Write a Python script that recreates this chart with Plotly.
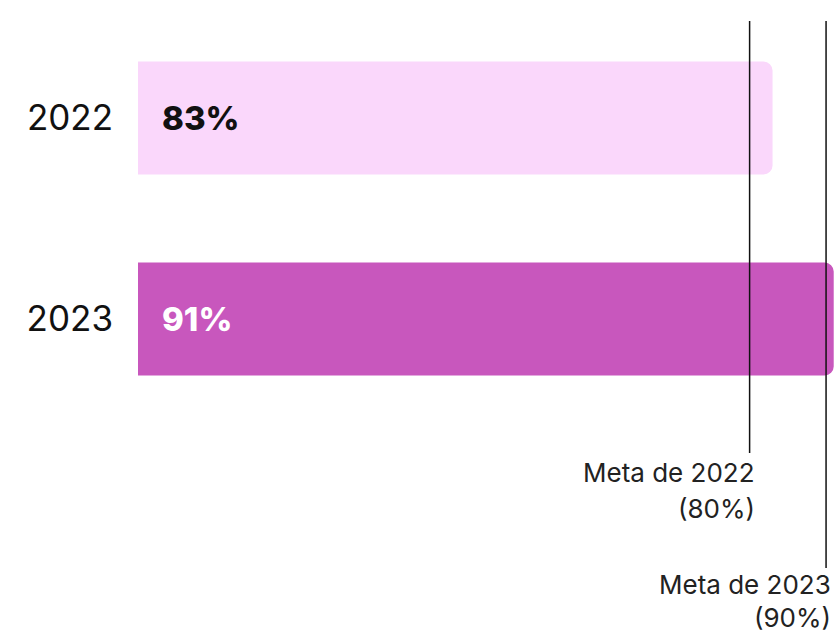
import plotly.graph_objects as go

years = ["2022", "2023"]
values = [83, 91]
goals = [80, 90]
goal_labels = ["Meta de 2022", "Meta de 2023"]
bar_colors = ["#FAD7FB", "#C857BD"]
text_colors = ["#111111", "#FFFFFF"]

W, H = 836, 635

def py(pix):
    return 1 - pix / H

fig = go.Figure()
fig.add_trace(go.Bar(
    y=years, x=values, orientation="h",
    marker=dict(color=bar_colors, cornerradius=9, line=dict(width=0)),
    width=0.562, hoverinfo="skip",
))

annotations = []
for i, (v, c) in enumerate(zip(values, text_colors)):
    annotations.append(dict(
        x=0, y=i, xref="x", yref="y", text=f"{v}%", showarrow=False,
        xanchor="left", yanchor="middle", xshift=22,
        font=dict(family="Inter", size=33, color=c, weight=800),
    ))

line_bottoms = [453, 568]
label_tops = [472, 584]
label_gaps = [36, 33]
shapes = []
for g, lab, lb, lt, gap in zip(goals, goal_labels, line_bottoms, label_tops, label_gaps):
    shapes.append(dict(type="line", xref="x", yref="paper", x0=g, x1=g,
                       y0=py(21), y1=py(lb), line=dict(color="#111111", width=1.5),
                       layer="above"))
    annotations.append(dict(
        x=g, y=py(lt), xref="x", yref="paper", text=lab, showarrow=False,
        xanchor="right", yanchor="middle", xshift=7, align="right",
        font=dict(family="Inter", size=26, color="#222222"),
    ))
    annotations.append(dict(
        x=g, y=py(lt + gap), xref="x", yref="paper", text=f"({g}%)", showarrow=False,
        xanchor="right", yanchor="middle", xshift=7, align="right",
        font=dict(family="Inter", size=26, color="#222222"),
    ))

fig.update_layout(
    width=W, height=H,
    margin=dict(l=138, r=0, t=0, b=0),
    paper_bgcolor="white", plot_bgcolor="white",
    showlegend=False,
    xaxis=dict(range=[0, 91.3], visible=False, fixedrange=True),
    yaxis=dict(type="category", categoryorder="array", categoryarray=years,
               range=[2.572, -0.587], showgrid=False, zeroline=False, showline=False,
               ticks="", ticklabelstandoff=24,
               tickfont=dict(family="Inter", size=35, color="#111111")),
    shapes=shapes, annotations=annotations,
)

fig.write_html("out.html", config={"displayModeBar": False},
               post_script="document.body.style.margin='0';document.body.style.overflow='hidden';")
